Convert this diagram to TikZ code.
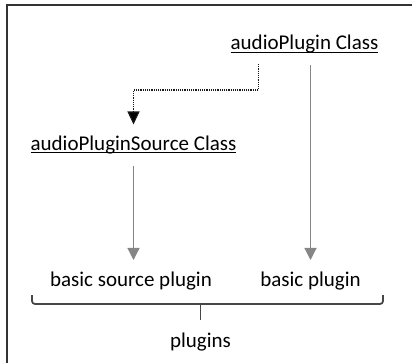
\documentclass[tikz,border=0pt]{standalone}
\usepackage{fontspec}
\setmainfont{Carlito}
\usetikzlibrary{arrows.meta}

\newcommand{\clsname}[1]{\setbox0\hbox{#1}\rlap{\rule[-2.6pt]{\wd0}{1pt}}\box0}

\tikzset{
  lbl/.style={font=\fontsize{21}{24}\selectfont, text=black, inner sep=0pt, anchor=base},
  grayarrow/.style={draw=gray!95, line width=1.2pt, -{Triangle[width=12pt,length=12pt]}},
  dotarrow/.style={draw=black!90, line width=1.2pt, densely dotted, -{Triangle[width=12pt,length=13pt,fill=black]}},
  bracket/.style={draw=black!72, line width=1.8pt},
  frame/.style={draw=black!80, line width=2pt}
}

\begin{document}
\begin{tikzpicture}[x=1pt,y=-1pt]
       \useasboundingbox (0,0) rectangle (412,363);
       \draw[frame] (7,363) -- (7,5) -- (412,5);
       \node[lbl] (apc) at (304.5,50) {\clsname{audioPlugin Class}};
       \node[lbl] (asc) at (133.5,150.5) {\clsname{audioPluginSource Class}};
       \node[lbl] (bsp) at (131,287) {basic source plugin};
       \node[lbl] (bp) at (310.5,287) {basic plugin};
       \node[lbl] (plg) at (200.5,347.5) {plugins};
       \coordinate (d0) at ([xshift=-46pt,yshift=-14pt]apc.base);
       \coordinate (d1) at ([yshift=26pt]asc.base);
       \draw[dotarrow] (d0) -- ++(0,26) -| (d1);
       \path (apc.base -| bp) ++(0,15) coordinate (r0);
       \draw[grayarrow] (r0) -- ([yshift=27pt]bp.base);
       \coordinate (a0) at ([yshift=-15.5pt]asc.base);
       \coordinate (a1) at ([yshift=27pt]bsp.base);
       \draw[grayarrow] (a0) -- (a0 |- a1);
       \coordinate (bt) at ([yshift=27.5pt]plg.base);
       \draw[bracket, rounded corners=3pt] (32,295) -- (32,304) -- (383,304) -- (383,295);
       \draw[bracket] (bt |- 0,304) -- (bt);
\end{tikzpicture}
\end{document}
